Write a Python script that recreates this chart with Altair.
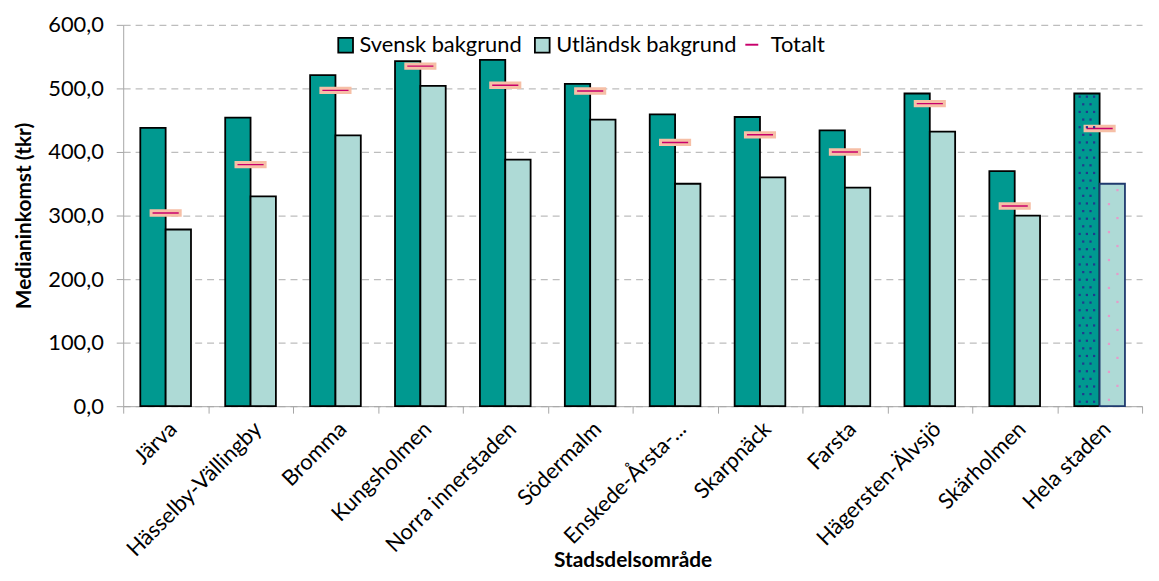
import altair as alt
import pandas as pd

omr = ["Järva", "Hässelby-Vällingby", "Bromma", "Kungsholmen", "Norra innerstaden",
       "Södermalm", "Enskede-Årsta-...", "Skarpnäck", "Farsta", "Hägersten-Älvsjö",
       "Skärholmen", "Hela staden"]
svensk = [438, 454, 521, 543, 545, 507, 459, 455, 434, 492, 370, 492]
utlandsk = [278, 330, 426, 504, 388, 451, 350, 360, 344, 432, 300, 350]
totalt = [304, 380, 497, 535, 505, 496, 415, 427, 400, 476, 315, 437]
series = ["Svensk bakgrund", "Utländsk bakgrund"]
y_ticks = [0, 100, 200, 300, 400, 500, 600]

rows = []
for i, o in enumerate(omr):
    rows.append({"omr": o, "serie": series[0], "v": svensk[i]})
    rows.append({"omr": o, "serie": series[1], "v": utlandsk[i]})
bars_df = pd.DataFrame(rows)
tot_df = pd.DataFrame({"omr": omr, "v": totalt, "lbl": ["Totalt"] * len(omr)})

# dotted texture for the "Hela staden" bars (pattern fill in the original)
n = len(omr)
dots = []
k = 0
yv = 7.0
while yv < svensk[-1] - 4:
    cols = [-0.085, 0.0, 0.085] if k % 2 == 0 else [-0.043, 0.043]
    for c in cols:
        dots.append({"xi": n - 1 + 0.35 + c, "v": yv, "g": "s"})
    k += 1
    yv += 12.0
k = 0
yv = 10.0
while yv < utlandsk[-1] - 6:
    c = -0.04 if k % 2 == 0 else 0.06
    dots.append({"xi": n - 1 + 0.65 + c, "v": yv, "g": "u"})
    k += 1
    yv += 22.0
dots_df = pd.DataFrame(dots)

W, H = 1026, 384
FONT = "Lato"

x_enc = alt.X("omr:N", sort=omr,
              scale=alt.Scale(paddingInner=0, paddingOuter=0),
              axis=alt.Axis(title="Stadsdelsområde", labelAngle=-45, tickBand="extent",
                            labelFontSize=22, titleFontSize=21, titleFontWeight="bold",
                            titleY=155, titleBaseline="middle",
                            domainColor="#A6A6A6", tickColor="#A6A6A6", tickSize=7,
                            labelPadding=5, grid=False, labelColor="black",
                            labelLimit=400))
y_enc = alt.Y("v:Q", scale=alt.Scale(domain=[0, 600], nice=False),
              axis=alt.Axis(title="Medianinkomst (tkr)", values=y_ticks,
                            labelExpr="replace(format(datum.value, '.1f'), '.', ',')",
                            labelFontSize=22, titleFontSize=21, titleFontWeight="bold",
                            grid=True, gridDash=[7, 5], gridColor="#BDBDBD", gridWidth=1.3,
                            domainColor="#A6A6A6", tickColor="#A6A6A6", tickSize=7,
                            labelPadding=13, titlePadding=13, labelColor="black"))

bars = alt.Chart(bars_df).mark_bar(strokeWidth=1.8).encode(
    x=x_enc,
    xOffset=alt.XOffset("serie:N", sort=series,
                        scale=alt.Scale(paddingOuter=0.675, paddingInner=0)),
    y=y_enc,
    fill=alt.Fill("serie:N", sort=series,
                  scale=alt.Scale(domain=series, range=["#009990", "#AEDAD6"]),
                  legend=alt.Legend(title=None, orient="none", legendX=213, legendY=9,
                                    direction="horizontal", symbolType="square",
                                    symbolSize=220, symbolStrokeColor="black",
                                    symbolStrokeWidth=1.8, labelFontSize=22,
                                    columnPadding=8, labelLimit=300, labelOffset=3)),
    stroke=alt.condition("datum.omr == 'Hela staden' && datum.serie == 'Utländsk bakgrund'",
                         alt.value("#1F3A6E"), alt.value("black")),
)

tot_path = "M-1,-0.15L1,-0.15L1,0.15L-1,0.15Z"
tot = alt.Chart(tot_df).mark_point(filled=True, fill="#C8006C", stroke="#F6BFA6",
                                   strokeWidth=3, opacity=1, size=860).encode(
    x=alt.X("omr:N", sort=omr),
    y=alt.Y("v:Q"),
    shape=alt.Shape("lbl:N", scale=alt.Scale(domain=["Totalt"], range=[tot_path]),
                    legend=alt.Legend(title=None, orient="none", legendX=622, legendY=9,
                                      symbolSize=170, symbolFillColor="#E77C95",
                                      symbolStrokeColor="#F6BFA6", symbolStrokeWidth=1.5,
                                      labelFontSize=22, labelOffset=8)),
)

dot_layer = alt.Chart(dots_df).mark_square(size=5, opacity=1).encode(
    x=alt.X("xi:Q", scale=alt.Scale(domain=[0, n], nice=False, zero=False), axis=None),
    y=alt.Y("v:Q"),
    color=alt.Color("g:N", scale=alt.Scale(domain=["s", "u"], range=["#1F3A8E", "#E59CCB"]),
                    legend=None),
)

main = alt.layer(bars, tot).resolve_legend(shape="independent")

chart = alt.layer(main, dot_layer).resolve_scale(
    x="independent", color="independent"
).properties(
    width=W, height=H,
    autosize=alt.AutoSizeParams(type="none"),
    padding={"left": 116, "top": 15, "right": 9, "bottom": 166},
).configure(font=FONT).configure_view(stroke=None).configure_legend(
    labelFont=FONT, labelColor="black")

chart.save("out.html", embed_options={"renderer": "svg", "actions": False})
